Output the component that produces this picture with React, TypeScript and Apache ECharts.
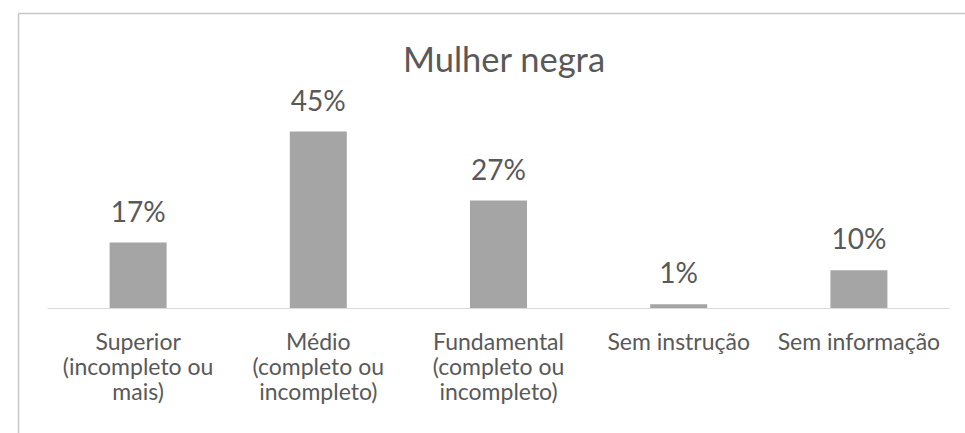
import React, { useEffect, useRef } from "react";
import * as echarts from "echarts";

const titleText = "Mulher negra";
const categories = [
  "Superior\n(incompleto ou\nmais)",
  "Médio\n(completo ou\nincompleto)",
  "Fundamental\n(completo ou\nincompleto)",
  "Sem instrução",
  "Sem informação",
];
const values = [16.7, 45, 27.4, 0.95, 9.6];

const FONT = "Lato";
const TEXT = "#595959";

export default function App() {
  const ref = useRef<HTMLDivElement>(null);
  useEffect(() => {
    if (!ref.current) return;
    const chart = echarts.init(ref.current, undefined, { renderer: "svg" });
    chart.setOption({
      animation: false,
      backgroundColor: "#ffffff",
      title: {
        text: titleText,
        left: 499,
        top: 36,
        textAlign: "center",
        textStyle: { fontFamily: FONT, fontSize: 34.5, fontWeight: "normal", color: TEXT },
      },
      graphic: [
        { type: "line", shape: { x1: 18.5, y1: 13.5, x2: 965, y2: 13.5 }, style: { stroke: "#C6C6C6", lineWidth: 1.5 } },
        { type: "line", shape: { x1: 18.5, y1: 13.5, x2: 18.5, y2: 433 }, style: { stroke: "#C6C6C6", lineWidth: 1.5 } },
      ],
      grid: { left: 48, right: 16, top: 112, bottom: 125, containLabel: false },
      xAxis: {
        type: "category",
        data: categories,
        axisTick: { show: false },
        axisLine: { lineStyle: { color: "#D9D9D9", width: 1 } },
        axisLabel: {
          interval: 0,
          fontFamily: FONT,
          fontSize: 23,
          lineHeight: 25,
          color: TEXT,
          margin: 20,
        },
      },
      yAxis: { type: "value", min: 0, max: 50, show: false, splitLine: { show: false } },
      series: [
        {
          type: "bar",
          data: values,
          barWidth: 57,
          itemStyle: { color: "#A5A5A5" },
          label: {
            show: true,
            position: "top",
            distance: 18,
            formatter: (p: any) => Math.round(p.value) + "%",
            fontFamily: FONT,
            fontSize: 28,
            color: TEXT,
          },
        },
      ],
    });
    return () => chart.dispose();
  }, []);
  return (
    <div
      ref={ref}
      style={{ position: "fixed", left: 0, top: 0, width: 965, height: 433 }}
    />
  );
}
